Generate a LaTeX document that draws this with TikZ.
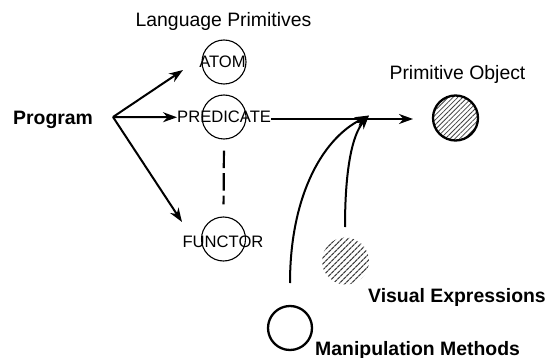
\documentclass[tikz,border=0pt]{standalone}
\usepackage{fontspec}
\setmainfont{Liberation Sans}
\usetikzlibrary{arrows.meta,patterns.meta}

\tikzset{
  bigtext/.style={inner sep=0pt, font=\fontsize{19.4}{22}\selectfont},
  boldtext/.style={bigtext, font=\fontsize{19.4}{22}\selectfont\bfseries},
  primtext/.style={inner sep=0pt, font=\fontsize{16.6}{19}\selectfont},
  primcircle/.style={circle, draw, line width=1.1pt, minimum size=44pt, inner sep=0pt},
  objcircle/.style={circle, draw, line width=2.3pt, minimum size=45pt, inner sep=0pt,
    pattern={Lines[angle=45,distance=3.4pt,line width=0.8pt]}, pattern color=black!75},
  viscircle/.style={circle, minimum size=47pt, inner sep=0pt,
    pattern={Lines[angle=45,distance=4pt,line width=1.3pt]}, pattern color=black!75},
  mancircle/.style={circle, draw, line width=2.3pt, minimum size=44pt, inner sep=0pt},
  conn/.style={line width=2pt, -{Stealth[length=14pt,width=10pt,inset=4.5pt]}},
  dashlink/.style={line width=2.2pt, dash pattern=on 17.5pt off 5pt}
}

\begin{document}
\begin{tikzpicture}[x=1pt,y=-1pt]
  \useasboundingbox (0,0) rectangle (548,358);

  % primitive circles
  \node[primcircle] (atomc) at (224,62) {};
  \node[primcircle] (predc) at (224,117) {};
  \node[primcircle] (funcc) at (223.5,239) {};

  % labels
  \node[bigtext, anchor=base] (langprim) at (223.5,26.7) {Language Primitives};
  \node[boldtext, anchor=base west] (prog) at (13,125) {Program};
  \node[primtext, anchor=base] (atom) at (222.5,68) {ATOM};
  \node[primtext, anchor=base west] (pred) at (177,123) {PREDICATE};
  \node[primtext, anchor=base] (func) at (223,247) {FUNCTOR};

  % right-hand side
  \node[objcircle] (objc) at (455.5,118) {};
  \node[bigtext, anchor=base] (objlabel) at (457.5,80) {Primitive Object};
  \node[viscircle] (visc) at (345.5,261) {};
  \node[boldtext, anchor=base west] (vislabel) at (368,302) {Visual Expressions};
  \node[mancircle] (manc) at (290,328) {};
  \node[boldtext, anchor=base west] (manlabel) at (315,355) {Manipulation Methods};

  % connector points
  \coordinate (fork) at (113,117);
  \coordinate (atomtip) at (183,70);
  \coordinate (functip) at (182,222);
  \coordinate (merge) at (413,119);
  \coordinate (join) at (369,115.5);
  \coordinate (manstart) at (290,283);
  \coordinate (visstart) at (345,227);

  % program to primitives
  \draw[conn] (fork) -- (atomtip);
  \draw[conn] (fork) -- (pred.west);
  \draw[conn] (fork) -- (functip);

  % elision between predicate and functor
  \draw[dashlink, shorten <=11pt, shorten >=12pt] (predc.south) -- (funcc.north);

  % predicate to primitive object
  \draw[conn] (pred.east |- merge) -- (merge);

  % methods and expressions feeding in
  \draw[conn] (manstart) .. controls (290,200) and (320,140) .. (join);
  \draw[conn] (visstart) .. controls (345,170) and (352,135) .. (join);
\end{tikzpicture}
\end{document}
